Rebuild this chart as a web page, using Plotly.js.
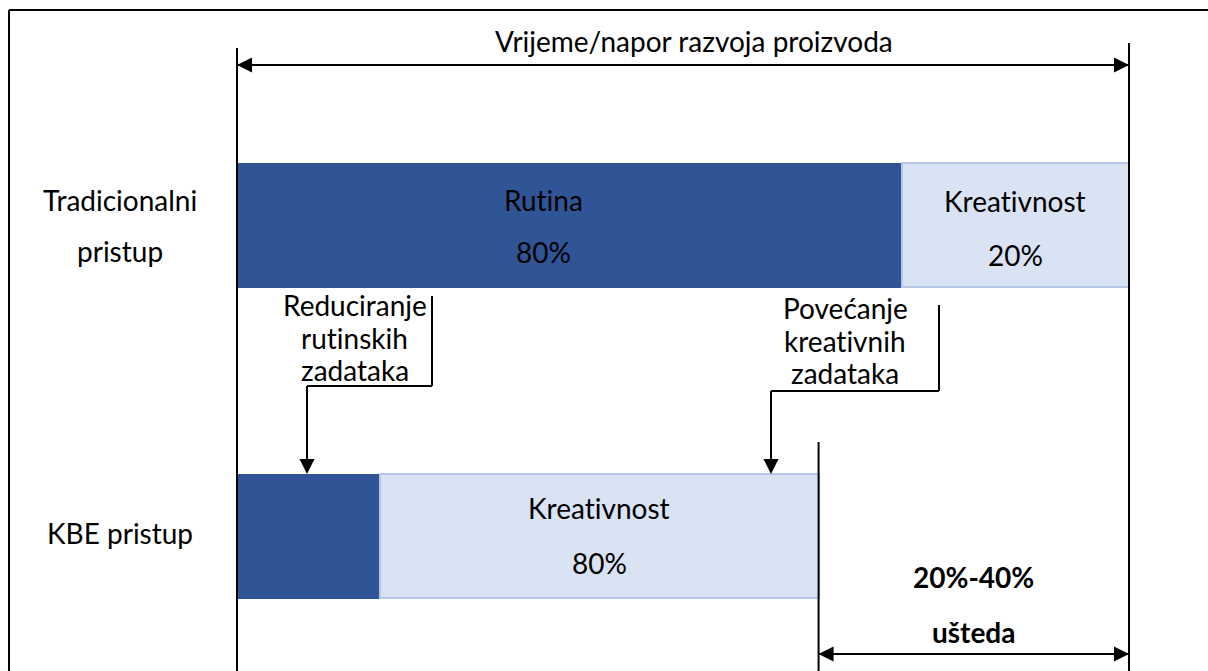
<!DOCTYPE html>
<html>
<head>
<meta charset="utf-8">
<script src="https://cdn.plot.ly/plotly-3.0.1.min.js"></script>
<style>html,body{margin:0;padding:0;background:#fff;}#chart{width:1208px;height:671px;}
svg text{font-variant-ligatures:none;font-feature-settings:"liga" 0,"clig" 0;}</style>
</head>
<body>
<div id="chart"></div>
<script>
// ---- data ----
const categories = ['Tradicionalni pristup', 'KBE pristup'];
const categoryLine1 = ['Tradicionalni', 'KBE pristup'];
const categoryLine2 = ['pristup', ''];
const routineValues = [74.5, 16];
const creativeValues = [25.5, 49.2];
const routineNames = ['Rutina', ''];
const routinePct = ['80%', ''];
const creativeNames = ['Kreativnost', 'Kreativnost'];
const creativePct = ['20%', '80%'];
const totalLabel = 'Vrijeme/napor razvoja proizvoda';
const savingsLabel = ['20%-40%', 'ušteda'];
const reduceNote = ['Reduciranje', 'rutinskih', 'zadataka'];
const increaseNote = ['Povećanje', 'kreativnih', 'zadataka'];

// ---- layout helpers (pixel -> paper) ----
const W = 1208, H = 671;
const PX = p => p / W;
const PY = p => 1 - p / H;
const FONT = 'Lato, "Open Sans", sans-serif';
const FS = 28;
const DARK = '#2f5597', LIGHT = '#dae3f3', LIGHTLINE = '#b4c7e7';
const UNIT = 8.92; // px per percent on the x axis

const kbeTotal = routineValues[1] + creativeValues[1];

const traces = [
  {type: 'bar', orientation: 'h', y: categories, x: routineValues, width: 0.3987,
   marker: {color: DARK, line: {color: DARK, width: 1}}, hoverinfo: 'skip', showlegend: false},
  {type: 'bar', orientation: 'h', y: categories, x: creativeValues, width: 0.3987,
   marker: {color: LIGHT, line: {color: LIGHTLINE, width: 2}}, hoverinfo: 'skip', showlegend: false}
];

const shapes = [];
const ann = [];
const line = (x0, y0, x1, y1, xref, w) => shapes.push({type: 'line', xref: xref || 'paper', yref: 'paper',
  x0: x0, y0: y0, x1: x1, y1: y1, line: {color: '#000', width: w || 2}});

// frame (top and left)
line(PX(9), PY(10), PX(1208), PY(10));
line(PX(9), PY(10), PX(9), PY(671));
// vertical extent markers
line(0, PY(48), 0, PY(671), 'x');
line(100, PY(43), 100, PY(671), 'x');
line(kbeTotal, PY(442), kbeTotal, PY(671), 'x');

// arrow helper: head at (x,y), tail offset in px
const arrow = (x, y, ax, ay, xref) => ann.push({x: x, y: y, xref: xref || 'paper', yref: 'paper', text: '',
  showarrow: true, arrowhead: 2, arrowsize: 1.5, arrowwidth: 2, arrowcolor: '#000', ax: ax, ay: ay, standoff: 0, startstandoff: 0});

// top double arrow (0 -> 100)
line(0, PY(65), 100, PY(65), 'x');
arrow(0, PY(65), 30, 0, 'x');
arrow(100, PY(65), -30, 0, 'x');
// savings double arrow (kbeTotal -> 100)
line(kbeTotal, PY(654), 100, PY(654), 'x');
arrow(kbeTotal, PY(654), 30, 0, 'x');
arrow(100, PY(654), -30, 0, 'x');

// connectors
line(PX(432), PY(296), PX(432), PY(386));
line(PX(432), PY(386), PX(307), PY(386));
line(PX(307), PY(386), PX(307), PY(450));
arrow(PX(307), PY(474), 0, -30);
line(PX(939), PY(305), PX(939), PY(391));
line(PX(939), PY(391), PX(771), PY(391));
line(PX(771), PY(391), PX(771), PY(450));
arrow(PX(771), PY(474), 0, -30);

const txt = (text, x, y, xref, yref, extra) => ann.push(Object.assign({text: text, x: x, y: y,
  xref: xref || 'paper', yref: yref || 'paper', showarrow: false, xanchor: 'center', yanchor: 'middle',
  font: {family: FONT, size: FS, color: '#000'}}, extra || {}));

// title
txt(totalLabel, PX(694), PY(41));

// category labels
categories.forEach((c, i) => {
  if (categoryLine2[i]) {
    txt(categoryLine1[i], PX(120), c, 'paper', 'y', {yshift: 25});
    txt(categoryLine2[i], PX(120), c, 'paper', 'y', {yshift: -26});
  } else {
    txt(categoryLine1[i], PX(120), c, 'paper', 'y', {yshift: 3});
  }
});

// segment labels
const routineXShift = [-26, 0];
categories.forEach((c, i) => {
  if (routineNames[i]) {
    const xm = routineValues[i] / 2;
    txt(routineNames[i], xm, c, 'x', 'y', {yshift: 25, xshift: routineXShift[i]});
    txt(routinePct[i], xm, c, 'x', 'y', {yshift: -27, xshift: routineXShift[i]});
  }
  if (creativeNames[i]) {
    const xm = routineValues[i] + creativeValues[i] / 2;
    txt(creativeNames[i], xm, c, 'x', 'y', {yshift: (i === 0 ? 24 : 28)});
    txt(creativePct[i], xm, c, 'x', 'y', {yshift: (i === 0 ? -30 : -27)});
  }
});

// notes
reduceNote.forEach((t, k) => txt(t, PX(355), PY(305 + k * 32.5)));
increaseNote.forEach((t, k) => txt(t, PX(845), PY(308 + k * 32.5)));

// savings
const savX = (kbeTotal + 100) / 2;
const bold = {family: FONT, size: FS, color: '#000', weight: 'bold'};
txt(savingsLabel[0], savX, PY(577), 'x', 'paper', {font: bold});
txt(savingsLabel[1], savX, PY(632), 'x', 'paper', {font: bold});

const layout = {
  width: W, height: H,
  margin: {l: 0, r: 0, t: 0, b: 0},
  paper_bgcolor: '#fff', plot_bgcolor: '#fff',
  barmode: 'stack',
  xaxis: {range: [-237 / UNIT, (1208 - 237) / UNIT], visible: false, fixedrange: true},
  yaxis: {type: 'category', categoryorder: 'array', categoryarray: categories,
          range: [1.434, -0.7235], visible: false, fixedrange: true},
  shapes: shapes,
  annotations: ann,
  font: {family: FONT}
};

Plotly.newPlot('chart', traces, layout, {displayModeBar: false, staticPlot: true});
</script>
</body>
</html>
